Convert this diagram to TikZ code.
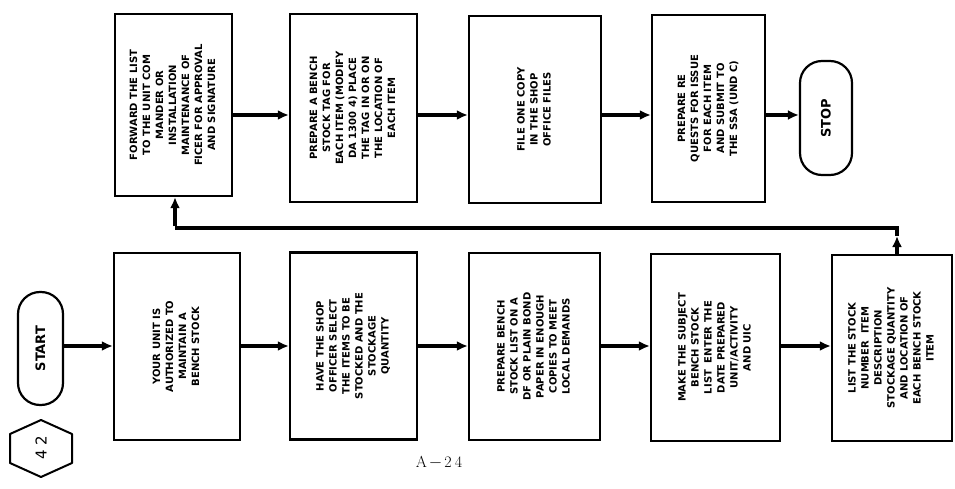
\documentclass[tikz,border=0pt]{standalone}
\usepackage{fontspec}
\usepackage{graphicx}
\usetikzlibrary{arrows.meta}
\newfontfamily\dv{DejaVu Sans}
\newcommand\boxfont{\dv\bfseries\fontsize{10}{13}\selectfont}
\newcommand\rt[1]{\rotatebox{90}{\begin{tabular}{@{}c@{}}#1\end{tabular}}}
\tikzset{
  stepbox/.style={draw, line width=2.3pt, inner sep=0pt, font=\boxfont},
  termbox/.style={draw, line width=2.2pt, inner sep=0pt, rounded corners=22pt,
     font=\dv\bfseries\fontsize{13}{15}\selectfont},
  flow/.style={line width=3.6pt, -{Latex[length=11pt,width=10pt]}},
  flowline/.style={line width=3.6pt},
}
\begin{document}
\begin{tikzpicture}[x=1pt,y=-1pt]
\useasboundingbox[fill=white] (0,0) rectangle (955,489);
% top row
\node[stepbox, minimum width=117pt, minimum height=182pt] (T1) at (173.5,105)
  {\rt{FORWARD THE LIST\\TO THE UNIT COM\\MANDER OR\\INSTALLATION\\MAINTENANCE OF\\FICER FOR APPROVAL\\AND SIGNATURE}};
\node[stepbox, minimum width=127pt, minimum height=188pt] (T2) at (353.5,108)
  {\rt{PREPARE A BENCH\\STOCK TAG FOR\\EACH ITEM (MODIFY\\DA 1300 4) PLACE\\THE TAG IN OR ON\\THE LOCATION OF\\EACH ITEM}};
\node[stepbox, minimum width=132pt, minimum height=187pt] (T3) at (535,109.5)
  {\rt{FILE ONE COPY\\IN THE SHOP\\OFFICE FILES}};
\node[stepbox, minimum width=113pt, minimum height=187pt] (T4) at (708.5,108.5)
  {\rt{PREPARE RE\\QUESTS FOR ISSUE\\FOR EACH ITEM\\AND SUBMIT TO\\THE SSA (UND C)}};
\node[termbox, minimum width=52pt, minimum height=114pt] (STOP) at (826,118) {\rotatebox{90}{STOP}};
% bottom row
\node[termbox, minimum width=45pt, minimum height=113pt] (START) at (40.5,348.5) {\rotatebox{90}{START}};
\node[stepbox, minimum width=126pt, minimum height=187pt] (B1) at (177,346.5)
  {\rt{YOUR UNIT IS\\AUTHORIZED TO\\MAINTAIN A\\BENCH STOCK}};
\node[stepbox, minimum width=127pt, minimum height=187pt] (B2) at (353.5,346)
  {\rt{HAVE THE SHOP\\OFFICER SELECT\\THE ITEMS TO BE\\STOCKED AND THE\\STOCKAGE\\QUANTITY}};
\node[stepbox, minimum width=131pt, minimum height=187pt] (B3) at (534.5,346.5)
  {\rt{PREPARE BENCH\\STOCK LIST ON A\\DF OR PLAIN BOND\\PAPER IN ENOUGH\\COPIES TO MEET\\LOCAL DEMANDS}};
\node[stepbox, minimum width=129pt, minimum height=187pt] (B4) at (715.5,347.5)
  {\rt{MAKE THE SUBJECT\\BENCH STOCK\\LIST \ ENTER THE\\DATE PREPARED\\UNIT/ACTIVITY\\AND UIC}};
\node[stepbox, minimum width=120pt, minimum height=186pt] (B5) at (892,348)
  {\rt{LIST THE STOCK\\NUMBER \ ITEM\\DESCRIPTION\\STOCKAGE QUANTITY\\AND LOCATION OF\\EACH BENCH STOCK\\ITEM}};
% hexagon page marker
\node[font=\dv\fontsize{15}{17}\selectfont] (hex) at (41,448) {\rotatebox{90}{4 2}};
\draw[line width=2pt, line join=round] (10,434) -- (41,420) -- (72,434) -- (72,463) -- (41,477) -- (10,463) -- cycle;
\node[font=\fontsize{16}{18}\selectfont] (pg) at (439,463) {A\kern2pt$-$\kern2pt2\kern3pt4};
% connectors
\coordinate (ytop) at (0,115);
\coordinate (ybot) at (0,346);
\draw[flow] (T1.east |- ytop) -- (T2.west |- ytop);
\draw[flow] (T2.east |- ytop) -- (T3.west |- ytop);
\draw[flow] (T3.east |- ytop) -- (T4.west |- ytop);
\draw[flow] (T4.east |- ytop) -- (STOP.west |- ytop);
\draw[flow] (START.east |- ybot) -- (B1.west |- ybot);
\draw[flow] (B1.east |- ybot) -- (B2.west |- ybot);
\draw[flow] (B2.east |- ybot) -- (B3.west |- ybot);
\draw[flow] (B3.east |- ybot) -- (B4.west |- ybot);
\draw[flow] (B4.east |- ybot) -- (B5.west |- ybot);
\coordinate (rM) at (897,236);
\coordinate (rA) at (897,228);
\coordinate (rL) at (175,228);
\draw[flow] (B5.north -| rM) -- (rM);
\draw[flowline] (rM) -- (rA) -- (rL);
\draw[flow] ([yshift=1.8pt]rL) -- (T1.south -| rL);
\end{tikzpicture}
\end{document}
